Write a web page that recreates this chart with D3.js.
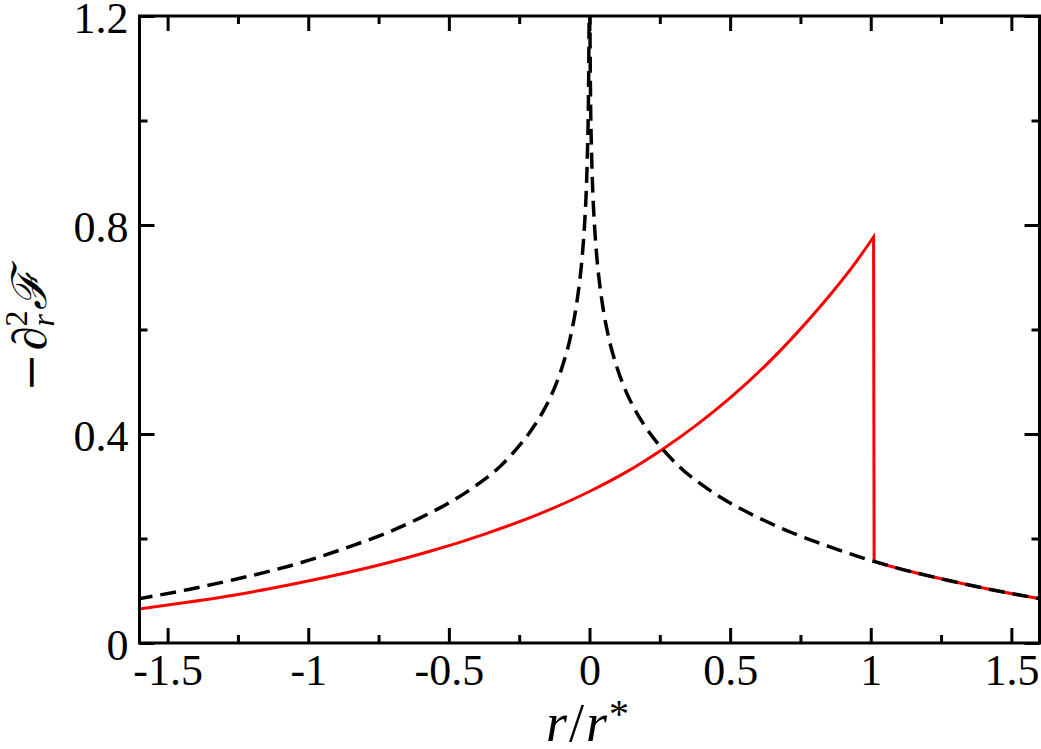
<!DOCTYPE html>
<html>
<head>
<meta charset="utf-8">
<script src="https://cdn.jsdelivr.net/npm/d3@7"></script>
<style>
  html, body { margin: 0; padding: 0; background: #fff; }
  svg { display: block; }
</style>
</head>
<body>
<svg id="chart" width="1041" height="749"></svg>
<script>
// ---- data ----
const xMajor = [-1.5, -1, -0.5, 0, 0.5, 1, 1.5];
const xMajorLabels = ["-1.5", "-1", "-0.5", "0", "0.5", "1", "1.5"];
const xMinor = [-1.25, -0.75, -0.25, 0.25, 0.75, 1.25];
const yMajor = [0, 0.4, 0.8, 1.2];
const yMajorLabels = ["0", "0.4", "0.8", "1.2"];
const yMinor = [0.2, 0.6, 1.0];

// dashed black curve (cusp at r = 0, runs off the top of the frame)
const dashedX = [-1.61, -1.43, -1.25, -1.07, -1.0, -0.85, -0.72, -0.60, -0.50, -0.415, -0.32, -0.26, -0.214, -0.16, -0.13, -0.095, -0.068, -0.045, -0.035, -0.025, -0.017, -0.0125, -0.008, -0.003, -0.0015, 0,
                 0.0015, 0.003, 0.008, 0.0125, 0.017, 0.025, 0.035, 0.045, 0.068, 0.095, 0.13, 0.16, 0.214, 0.26, 0.32, 0.415, 0.50, 0.60, 0.72, 0.85, 1.0, 1.07, 1.25, 1.43, 1.61];
const dashedY = [0.084, 0.102, 0.123, 0.147, 0.158, 0.185, 0.211, 0.240, 0.268, 0.297, 0.337, 0.371, 0.402, 0.448, 0.481, 0.532, 0.585, 0.652, 0.692, 0.745, 0.806, 0.853, 0.925, 1.080, 1.190, 1.300,
                 1.190, 1.080, 0.925, 0.853, 0.806, 0.745, 0.692, 0.652, 0.585, 0.532, 0.481, 0.448, 0.402, 0.371, 0.337, 0.297, 0.268, 0.240, 0.211, 0.185, 0.158, 0.147, 0.123, 0.102, 0.084];

// red solid curve: rising branch, vertical drop at r ~ 1.01, then tail under the dashed curve
const redRiseX = [-1.61, -1.43, -1.25, -1.07, -0.90, -0.72, -0.57, -0.37, -0.165, 0.0, 0.13, 0.26, 0.38, 0.50, 0.62, 0.74, 0.855, 0.95, 1.01];
const redRiseY = [0.0645, 0.078, 0.093, 0.111, 0.130, 0.153, 0.175, 0.209, 0.250, 0.290, 0.327, 0.371, 0.417, 0.469, 0.528, 0.595, 0.666, 0.731, 0.777];
const redTailX = [1.012, 1.07, 1.25, 1.43, 1.61];
const redTailY = [0.156, 0.147, 0.123, 0.102, 0.084];

// ---- layout ----
const svg = d3.select("#chart");
const L = 139.5, R = 1039.5, T = 16, B = 643;
const FONT = "'Liberation Serif', 'Times New Roman', serif";
const FS = 44;

const x = d3.scaleLinear().domain([-1.6, 1.6]).range([L, R]);
const y = d3.scaleLinear().domain([0, 1.2]).range([B, T]);

svg.append("defs").append("clipPath").attr("id", "plotclip")
  .append("rect").attr("x", L).attr("y", T).attr("width", R - L).attr("height", B - T);

const plot = svg.append("g").attr("clip-path", "url(#plotclip)");

const line = d3.line().x(d => x(d[0])).y(d => y(d[1])).curve(d3.curveMonotoneX);

const rise = redRiseX.map((v, i) => [v, redRiseY[i]]);
const tail = redTailX.map((v, i) => [v, redTailY[i]]);

// rising curve, straight vertical drop, then tail
const redPath = line(rise) + line(tail).replace(/^M/, "L");
plot.append("path").attr("d", redPath)
  .attr("fill", "none").attr("stroke", "#ff0000").attr("stroke-width", 3)
  .attr("stroke-linejoin", "miter");

const dashed = dashedX.map((v, i) => [v, dashedY[i]]);
plot.append("path").attr("d", line(dashed))
  .attr("fill", "none").attr("stroke", "#000").attr("stroke-width", 3.5)
  .attr("stroke-dasharray", "16,8");

// ---- axes ----
function styleAxis(g) {
  g.select(".domain").remove();
  g.selectAll(".tick line").attr("stroke", "#000").attr("stroke-width", 3);
  g.selectAll(".tick text").attr("font-family", FONT).attr("font-size", FS).attr("fill", "#000");
}

// bottom
svg.append("g").attr("transform", `translate(0,${B})`)
  .call(d3.axisBottom(x).tickValues(xMajor).tickSize(-15).tickPadding(11)
    .tickFormat((d, i) => xMajorLabels[i]))
  .call(styleAxis);
svg.append("g").attr("transform", `translate(0,${B})`)
  .call(d3.axisBottom(x).tickValues(xMinor).tickSize(-8).tickFormat(""))
  .call(styleAxis);
// top
svg.append("g").attr("transform", `translate(0,${T})`)
  .call(d3.axisTop(x).tickValues(xMajor).tickSize(-15).tickFormat(""))
  .call(styleAxis);
svg.append("g").attr("transform", `translate(0,${T})`)
  .call(d3.axisTop(x).tickValues(xMinor).tickSize(-8).tickFormat(""))
  .call(styleAxis);
// left
const gl = svg.append("g").attr("transform", `translate(${L},0)`)
  .call(d3.axisLeft(y).tickValues(yMajor).tickSize(-15).tickPadding(11)
    .tickFormat((d, i) => yMajorLabels[i]))
  .call(styleAxis);
gl.selectAll(".tick text").attr("dy", "0.38em");
svg.append("g").attr("transform", `translate(${L},0)`)
  .call(d3.axisLeft(y).tickValues(yMinor).tickSize(-8).tickFormat(""))
  .call(styleAxis);
// right
svg.append("g").attr("transform", `translate(${R},0)`)
  .call(d3.axisRight(y).tickValues(yMajor).tickSize(-15).tickFormat(""))
  .call(styleAxis);
svg.append("g").attr("transform", `translate(${R},0)`)
  .call(d3.axisRight(y).tickValues(yMinor).tickSize(-8).tickFormat(""))
  .call(styleAxis);

// frame
svg.append("rect").attr("x", L).attr("y", T).attr("width", R - L).attr("height", B - T)
  .attr("fill", "none").attr("stroke", "#000").attr("stroke-width", 3);

// ---- axis titles ----
const xt = svg.append("text").attr("x", (L + R) / 2 - 2).attr("y", 741)
  .attr("text-anchor", "middle").attr("font-family", FONT).attr("font-size", 54);
xt.append("tspan").attr("font-style", "italic").text("r");
xt.append("tspan").attr("dx", 2).text("/");
xt.append("tspan").attr("dx", 2).attr("font-style", "italic").text("r");
xt.append("tspan").attr("font-size", 40).attr("dx", 2).attr("dy", -14).text("*");

const yt = svg.append("text").attr("transform", "translate(46,331) rotate(-90)")
  .attr("text-anchor", "middle").attr("font-family", FONT).attr("font-size", 48);
yt.append("tspan").attr("font-family", "'DejaVu Serif', serif").attr("font-size", 46).text("\u2212");
yt.append("tspan").attr("dx", 3).attr("font-style", "italic").text("\u2202");
yt.append("tspan").attr("font-size", 32).attr("dy", -19).text("2");
yt.append("tspan").attr("font-size", 32).attr("font-style", "italic").attr("dx", -16).attr("dy", 27).text("r");
yt.append("tspan").attr("dy", -8).attr("dx", 4).attr("font-style", "italic").text("\u2131");
</script>
</body>
</html>
